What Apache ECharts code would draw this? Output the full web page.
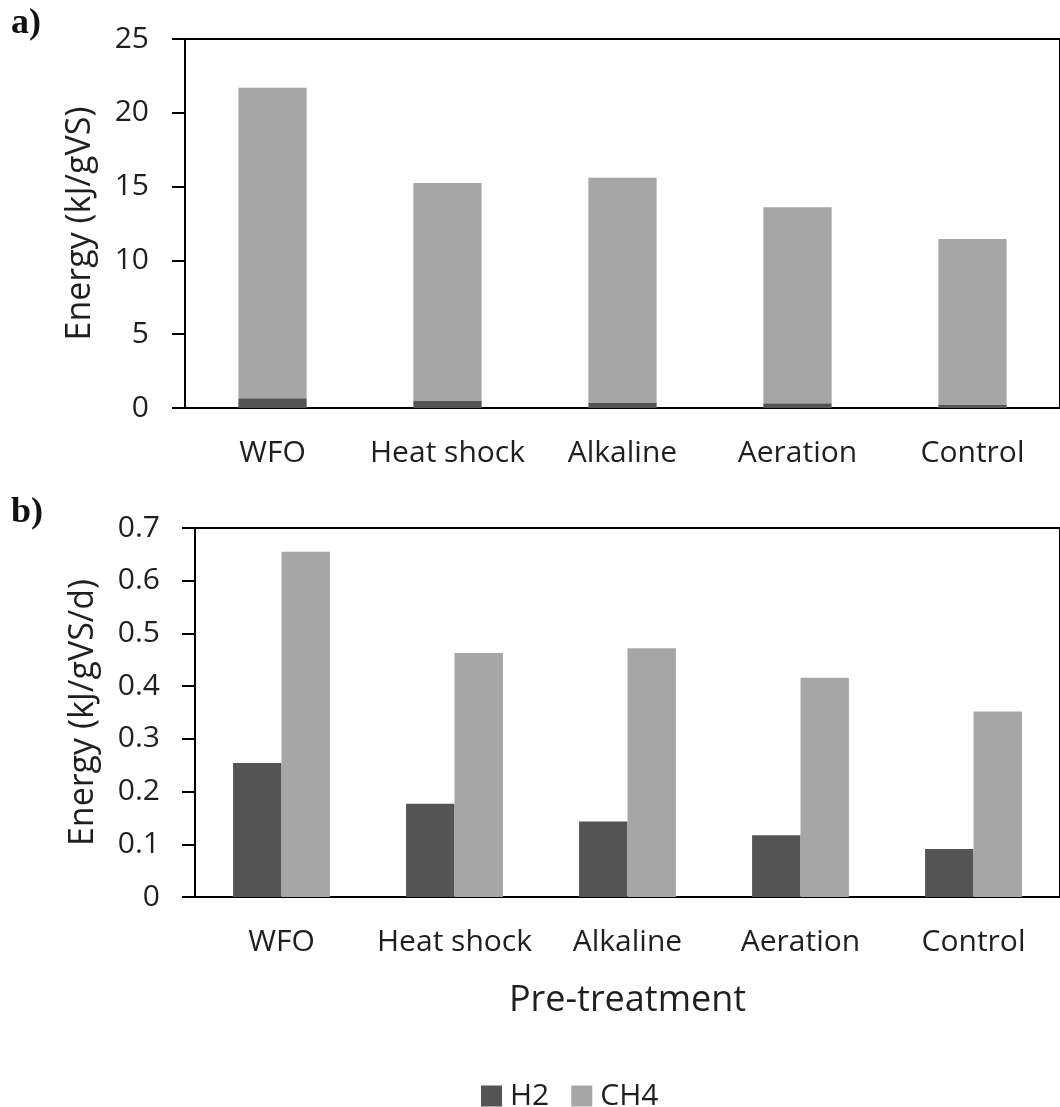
<!DOCTYPE html>
<html>
<head>
<meta charset="utf-8">
<script src="https://cdn.jsdelivr.net/npm/echarts@6/dist/echarts.min.js"></script>
<style>
html,body{margin:0;padding:0;background:#fff;}
#chart{width:1060px;height:1107px;}
</style>
</head>
<body>
<div id="chart"></div>
<script>
var categories = ['WFO', 'Heat shock', 'Alkaline', 'Aeration', 'Control'];
// Panel a: cumulative energy (kJ/gVS), stacked
var energyH2 = [0.66, 0.50, 0.37, 0.32, 0.23];
var energyCH4 = [21.04, 14.75, 15.23, 13.28, 11.22];
// Panel b: energy rate (kJ/gVS/d), grouped
var rateH2 = [0.254, 0.177, 0.143, 0.117, 0.091];
var rateCH4 = [0.655, 0.463, 0.472, 0.416, 0.352];
var yTicksA = [0, 5, 10, 15, 20, 25];
var yTicksB = [0, 0.1, 0.2, 0.3, 0.4, 0.5, 0.6, 0.7];

var FONT = 'Open Sans';
var TXT = '#1f1f1f';
var C_H2 = '#545454';
var C_CH4 = '#a6a6a6';

var chart = echarts.init(document.getElementById('chart'));
var axisLineStyle = {show: true, lineStyle: {color: '#000', width: 2}};
var labelStyle = {color: TXT, fontFamily: FONT, fontSize: 30};

chart.setOption({
  animation: false,
  backgroundColor: '#fff',
  graphic: [
    {type: 'text', left: 11, top: 6, style: {text: 'a)', font: 'bold 36px "Liberation Serif"', fill: '#111'}},
    {type: 'text', left: 11, top: 495, style: {text: 'b)', font: 'bold 36px "Liberation Serif"', fill: '#111'}}
  ],
  legend: {
    top: 1076, left: 476,
    itemWidth: 21, itemHeight: 21, itemGap: 22,
    textStyle: {color: TXT, fontFamily: FONT, fontSize: 30, padding: [0, 0, 0, 3]},
    data: [{name: 'H2', icon: 'rect'}, {name: 'CH4', icon: 'rect'}]
  },
  grid: [
    {left: 185, right: -5, top: 39, height: 369, show: true, borderColor: '#000', borderWidth: 2, backgroundColor: 'transparent'},
    {left: 195, right: -10, top: 528, height: 369, show: true, borderColor: '#000', borderWidth: 2, backgroundColor: 'transparent'}
  ],
  xAxis: [
    {type: 'category', gridIndex: 0, data: categories, axisLine: axisLineStyle, axisTick: {show: false},
     axisLabel: Object.assign({margin: 30, interval: 0}, labelStyle)},
    {type: 'category', gridIndex: 1, data: categories, axisLine: axisLineStyle, axisTick: {show: false},
     axisLabel: Object.assign({margin: 30, interval: 0}, labelStyle),
     name: 'Pre-treatment', nameLocation: 'middle', nameGap: 86,
     nameTextStyle: {color: TXT, fontFamily: FONT, fontSize: 36}}
  ],
  yAxis: [
    {type: 'value', gridIndex: 0, min: yTicksA[0], max: yTicksA[yTicksA.length - 1], interval: 5,
     axisLine: axisLineStyle, axisTick: {show: true, length: 13, lineStyle: {color: '#000', width: 2}},
     splitLine: {show: false},
     axisLabel: Object.assign({margin: 36}, labelStyle),
     name: 'Energy (kJ/gVS)', nameLocation: 'middle', nameGap: 88,
     nameTextStyle: {color: TXT, fontFamily: FONT, fontSize: 34}},
    {type: 'value', gridIndex: 1, min: yTicksB[0], max: yTicksB[yTicksB.length - 1], interval: 0.1,
     axisLine: axisLineStyle, axisTick: {show: true, length: 13, lineStyle: {color: '#000', width: 2}},
     splitLine: {show: false},
     axisLabel: Object.assign({margin: 35, formatter: function (v) { return String(Math.round(v * 10) / 10); }}, labelStyle),
     name: 'Energy (kJ/gVS/d)', nameLocation: 'middle', nameGap: 95,
     nameTextStyle: {color: TXT, fontFamily: FONT, fontSize: 34}}
  ],
  series: [
    {name: 'H2', type: 'bar', xAxisIndex: 0, yAxisIndex: 0, stack: 'a', data: energyH2, barWidth: '39%', itemStyle: {color: C_H2}},
    {name: 'CH4', type: 'bar', xAxisIndex: 0, yAxisIndex: 0, stack: 'a', data: energyCH4, barWidth: '39%', itemStyle: {color: C_CH4}},
    {name: 'H2', type: 'bar', xAxisIndex: 1, yAxisIndex: 1, data: rateH2, barWidth: '28%', barGap: '0%', itemStyle: {color: C_H2}},
    {name: 'CH4', type: 'bar', xAxisIndex: 1, yAxisIndex: 1, data: rateCH4, barWidth: '28%', barGap: '0%', itemStyle: {color: C_CH4}}
  ]
});
</script>
</body>
</html>
